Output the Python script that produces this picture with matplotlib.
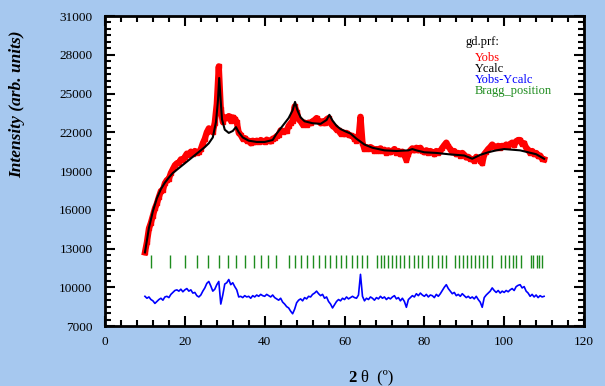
import numpy as np
import matplotlib
matplotlib.use("Agg")
import matplotlib.pyplot as plt
from matplotlib.ticker import MultipleLocator

plt.rcParams['font.family'] = ['Liberation Serif', 'DejaVu Serif']

# 2theta grid of the measured pattern (step 0.5 deg)
two_theta = np.arange(10.0, 110.5, 0.5)

y_obs = [
    12700, 13500, 14550, 15000, 15550, 16100, 16500, 17000, 17450, 17550,
    18050, 18300, 18400, 18850, 19150, 19450, 19600, 19650, 19900, 19850,
    20100, 20350, 20250, 20500, 20350, 20550, 20400, 20450, 20700, 21150,
    21500, 22000, 22300, 22150, 22000, 22750, 24200, 27100, 23800, 22800,
    23150, 23100, 23250, 22900, 23150, 23050, 22800, 21950, 21800, 21500,
    21550, 21350, 21350, 21150, 21350, 21230, 21350, 21250, 21400, 21300,
    21250, 21430, 21350, 21300, 21500, 21550, 21700, 21800, 22150, 22050,
    22100, 22100, 22500, 22700, 22900, 24000, 23600, 23000, 22850, 22600,
    22750, 22600, 22750, 22700, 22850, 22950, 23100, 22900, 22700, 22850,
    22700, 23000, 23100, 22700, 22500, 22400, 22200, 22150, 21900, 22000,
    21850, 21950, 21800, 21750, 21700, 21500, 21350, 21450, 23200, 21200,
    20700, 20850, 20700, 20850, 20750, 20550, 20700, 20550, 20750, 20550,
    20650, 20400, 20600, 20450, 20550, 20700, 20400, 20550, 20300, 20500,
    20250, 19850, 20350, 20600, 20750, 20600, 20800, 20600, 20800, 20550,
    20450, 20600, 20400, 20550, 20450, 20300, 20550, 20400, 20550, 20800,
    21000, 21200, 20900, 20700, 20450, 20550, 20300, 20400, 20200, 20400,
    20250, 20050, 20100, 19950, 19900, 19800, 20100, 19950, 19800, 19600,
    20300, 20500, 20700, 20850, 21050, 20900, 20800, 20950, 20800, 20950,
    20900, 21050, 20950, 21100, 21200, 21000, 21300, 21400, 21400, 21100,
    21150, 20800, 20650, 20400, 20550, 20300, 20400, 20150, 20200, 19950,
    19900,
]

y_diff = [
    9300, 9150, 9250, 9050, 8950, 8750, 8900, 9050, 9150, 9000,
    9250, 9300, 9200, 9450, 9600, 9750, 9800, 9700, 9850, 9650,
    9800, 9900, 9700, 9800, 9550, 9600, 9350, 9250, 9400, 9700,
    9950, 10300, 10450, 10100, 9700, 9850, 10200, 10450, 8700, 9400,
    10250, 10350, 10600, 10200, 10350, 10050, 9800, 9250, 9300, 9200,
    9350, 9250, 9300, 9150, 9350, 9250, 9400, 9300, 9450, 9350,
    9300, 9450, 9350, 9250, 9400, 9200, 9100, 9000, 9150, 8850,
    8700, 8500, 8400, 8150, 7950, 8300, 8800, 9000, 9100, 8950,
    9200, 9100, 9300, 9250, 9450, 9550, 9700, 9500, 9350, 9450,
    9150, 9250, 8900, 8700, 8400, 8650, 8900, 9050, 8950, 9150,
    9050, 9250, 9100, 9200, 9300, 9200, 9150, 9400, 11000, 9300,
    8950, 9150, 9050, 9250, 9150, 9000, 9200, 9100, 9300, 9150,
    9250, 9050, 9200, 9100, 9250, 9350, 9100, 9200, 8950, 9150,
    8900, 8450, 9050, 9200, 9350, 9250, 9500, 9350, 9550, 9400,
    9300, 9450, 9250, 9400, 9350, 9200, 9450, 9300, 9500, 9750,
    10000, 10200, 9900, 9700, 9500, 9600, 9350, 9450, 9300, 9500,
    9350, 9200, 9300, 9150, 9250, 9100, 9300, 9050, 8850, 8450,
    9200, 9400, 9550, 9700, 9950, 9750, 9600, 9750, 9550, 9700,
    9600, 9750, 9650, 9800, 9900, 9750, 10050, 10150, 10200, 9950,
    10050, 9700, 9550, 9300, 9450, 9250, 9400, 9200, 9350, 9250,
    9300,
]

# calculated profile
calc_x = [10, 11, 12, 13, 14, 15, 16, 17, 18, 19, 20, 21, 22, 23, 24, 25,
          26, 27, 27.8, 28.3, 28.6, 28.9, 29.3, 30, 31, 32, 32.8, 33.5,
          34.5, 36, 38, 40, 42, 43, 44, 45, 46, 47, 47.6, 48.2, 49, 50,
          52, 54, 55.5, 56.2, 57, 58, 59, 60, 61.5, 63, 65, 67, 70, 73,
          76, 77, 78, 80, 83, 86, 88, 90, 92, 94, 96, 98, 100, 102, 104,
          106, 108, 110]
calc_y = [12700, 14600, 15900, 16900, 17600, 18100, 18500, 18850, 19100,
          19350, 19600, 19850, 20100, 20350, 20600, 20850, 21150, 21600,
          22800, 24500, 26200, 24800, 23000, 22200, 21950, 22100, 22400,
          22000, 21600, 21350, 21250, 21250, 21400, 21900, 22300, 22700,
          23100, 23700, 24350, 23700, 23150, 22850, 22700, 22650, 22950,
          23350, 22900, 22500, 22250, 22100, 21900, 21500, 21050, 20800,
          20600, 20550, 20600, 20700, 20600, 20450, 20400, 20300, 20250,
          20200, 19950, 20250, 20450, 20600, 20700, 20650, 20600, 20450,
          20300, 19950]

bragg_pos = [11.4, 16.3, 20.0, 23.1, 25.9, 28.5, 30.8, 32.9, 35.0, 37.2,
             39.1, 40.9, 42.8, 46.1, 47.6, 49.1, 50.7, 52.2, 53.7, 55.0,
             56.4, 57.8, 59.1, 60.4, 61.8, 63.1, 64.4, 65.7, 68.2, 69.1,
             70.0, 71.0, 72.0, 73.0, 74.0, 75.0, 76.2, 77.3, 78.4, 79.5,
             80.8, 82.0, 83.3, 84.5, 85.5, 87.8, 88.8, 89.8, 90.8, 91.7,
             92.7, 93.6, 94.7, 95.7, 96.9, 99.1, 100.1, 101.1, 102.1, 103.0,
             104.2, 106.7, 107.3, 108.2, 108.8, 109.5]

y_ticks = [7000, 10000, 13000, 16000, 19000, 22000, 25000, 28000, 31000]

bg = '#a6c8ef'
fig = plt.figure(figsize=(6.05, 3.86), dpi=100, facecolor=bg)
ax = fig.add_axes([0.1736, 0.1554, 0.7917, 0.8031])

ax.plot(two_theta, y_obs, color='red', lw=4.5, marker='s', ms=3.5,
        solid_joinstyle='round')
ax.plot(calc_x, calc_y, color='black', lw=1.5)
ax.plot(two_theta, y_diff, color='blue', lw=1.2)
ax.vlines(bragg_pos, 11500, 12500, color='#1e8c1e', lw=1.0)

ax.set_xlim(0, 120)
ax.set_ylim(7000, 31000)
ax.xaxis.set_major_locator(MultipleLocator(20))
ax.xaxis.set_minor_locator(MultipleLocator(4))
ax.set_yticks(y_ticks)
ax.yaxis.set_minor_locator(MultipleLocator(500))
ax.tick_params(which='both', direction='in', top=True, right=True,
               width=1.5, labelsize=9.5)
ax.tick_params(which='major', length=7)
ax.tick_params(which='minor', length=4)
ax.tick_params(axis='x', pad=7)
ax.tick_params(axis='y', pad=9)
for s in ax.spines.values():
    s.set_linewidth(2)

fig.text(0.028, 0.73, 'Intensity (arb. units)', fontsize=12.5,
         fontweight='bold', fontstyle='italic', rotation=90,
         ha='center', va='center')
fig.text(0.583, 0.022, '2', fontsize=12, fontweight='bold',
         ha='center', va='center')
fig.text(0.597, 0.022, '\u03b8  (\u00ba)', fontsize=12,
         ha='left', va='center')

legend_items = [('Yobs', 'red'), ('Ycalc', 'black'),
                ('Yobs-Ycalc', 'blue'), ('Bragg_position', '#1e8c1e')]
ax.text(0.752, 0.916, 'gd.prf:', transform=ax.transAxes, fontsize=9,
        va='center')
for i, (lab, col) in enumerate(legend_items):
    ax.text(0.772, 0.866 - i * 0.036, lab, color=col, transform=ax.transAxes,
            fontsize=9, va='center')

fig.savefig('out.png', dpi=100, facecolor=bg)
